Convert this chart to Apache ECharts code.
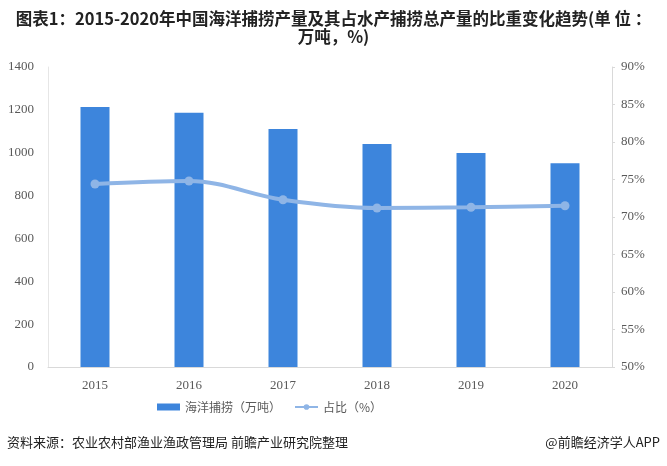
<!DOCTYPE html>
<html><head><meta charset="utf-8">
<script src="https://cdn.jsdelivr.net/npm/echarts@6/dist/echarts.min.js"></script>
<style>html,body{margin:0;padding:0;background:#fff}#c{width:667px;height:466px}</style>
</head><body><div id="c"></div>
<script>
var categories = ['2015','2016','2017','2018','2019','2020'];
var catchValues = [1213, 1186, 1111, 1041, 999, 951];
var shareValues = [74.4, 74.8, 72.3, 71.2, 71.3, 71.5];
var leftTicks = [0, 1400, 200];
var rightTicks = [50, 90, 5];
var titleLine1 = '图表1：2015-2020年中国海洋捕捞产量及其占水产捕捞总产量的比重变化趋势(单 位 ：';
var titleLine2 = '万吨，%)';
var sourceText = '资料来源：农业农村部渔业渔政管理局 前瞻产业研究院整理';
var brandText = '@前瞻经济学人APP';

var chart = echarts.init(document.getElementById('c'), null, {renderer:'canvas'});
var axisFont = {fontFamily:'Liberation Serif', fontSize:13, color:'#595959'};
var titleFont = {fontFamily:'Noto Sans CJK SC', fontWeight:'bold', fontSize:16.5, fill:'#222'};
chart.setOption({
  animation:false,
  grid:{left:48, right:55, top:67, bottom:99, containLabel:false},
  legend:{bottom:48, left:152, itemGap:13, itemWidth:23, itemHeight:7,
    textStyle:{fontFamily:'Noto Sans CJK SC', fontSize:12, color:'#595959'},
    data:[{name:'海洋捕捞（万吨）', icon:'rect'}, {name:'占比（%）'}]},
  xAxis:{type:'category', data:categories,
    axisLine:{lineStyle:{color:'#d9d9d9'}}, axisTick:{show:false},
    axisLabel:Object.assign({margin:12}, axisFont)},
  yAxis:[
    {type:'value', min:leftTicks[0], max:leftTicks[1], interval:leftTicks[2],
     axisLine:{show:true, lineStyle:{color:'#e6e6e6'}}, axisTick:{show:false}, splitLine:{show:false},
     axisLabel:Object.assign({margin:14, formatter:function(v){return String(v);}}, axisFont)},
    {type:'value', min:rightTicks[0], max:rightTicks[1], interval:rightTicks[2], position:'right',
     axisLine:{show:true, lineStyle:{color:'#d9d9d9'}}, axisTick:{show:true, length:3, lineStyle:{color:'#d9d9d9'}},
     splitLine:{show:false},
     axisLabel:Object.assign({margin:9, formatter:'{value}%'}, axisFont)}
  ],
  series:[
    {name:'海洋捕捞（万吨）', type:'bar', data:catchValues, barWidth:29, itemStyle:{color:'#3d85dc'}},
    {name:'占比（%）', type:'line', yAxisIndex:1, data:shareValues, smooth:0.35,
     symbol:'circle', symbolSize:9, lineStyle:{width:4, color:'#8fb5e6'}, itemStyle:{color:'#8fb5e6'}}
  ],
  graphic:[
    {type:'text', left:'center', top:10, style:Object.assign({text:titleLine1}, titleFont)},
    {type:'text', left:'center', top:28, style:Object.assign({text:titleLine2}, titleFont)},
    {type:'text', left:7, top:436, style:{text:sourceText, fontFamily:'Noto Sans CJK SC', fontSize:13, fill:'#222'}},
    {type:'text', right:7, top:436, style:{text:brandText, fontFamily:'Noto Sans CJK SC', fontSize:13, fill:'#222'}}
  ]
});
</script></body></html>
